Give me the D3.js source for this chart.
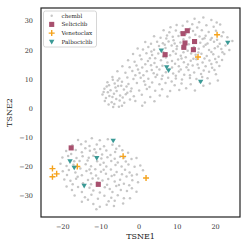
<!DOCTYPE html>
<html>
<head>
<meta charset="utf-8">
<script src="https://cdn.jsdelivr.net/npm/d3@7"></script>
<style>
  body { margin: 0; background: #fff; }
  text { font-family: "DejaVu Serif", serif; }
</style>
</head>
<body>
<svg id="chart" width="249" height="249"></svg>
<script>
// gray background compounds (chembl)
const chemblUpper = [
  [14.5,30.8],[16.8,31.2],[18.9,30.4],[12.6,29.9],[15.7,29.6],[20.3,29.5],
  [9.8,28.7],[11.4,28.4],[13.9,28.9],[17.6,28.6],[19.5,28.1],[21.2,28.8],[8.2,27.9],[15.2,27.8],
  [6.4,26.9],[7.9,26.2],[9.6,26.8],[10.9,26.1],[14.1,26.6],[16.4,26.9],[18.2,26.3],[20.1,26.7],[22.0,26.2],[13.3,27.4],
  [3.9,24.8],[5.6,24.3],[7.3,25.1],[8.8,24.6],[10.3,24.9],[13.2,24.4],[15.8,24.7],[17.4,25.0],[19.0,24.2],[21.6,24.8],[23.1,24.5],[16.6,23.9],[11.6,23.8],
  [1.6,22.8],[3.1,22.2],[4.7,22.9],[6.2,22.4],[7.7,23.0],[9.3,22.3],[10.8,22.7],[13.0,22.1],[16.0,22.6],[17.9,22.3],[19.6,22.9],[21.1,22.2],[22.6,21.6],[24.4,23.2],[18.7,23.6],[5.2,21.5],[8.5,21.6],
  [-0.4,20.6],[1.0,20.3],[2.4,21.1],[3.9,20.2],[6.9,20.8],[9.8,20.4],[11.3,20.9],[12.7,19.8],[15.6,20.5],[16.9,21.3],[18.3,20.1],[19.8,20.7],[21.5,20.4],[23.6,20.1],[13.6,18.9],
  [-1.6,18.7],[0.2,18.2],[1.9,19.0],[3.4,18.4],[5.0,18.9],[8.1,18.3],[9.6,18.8],[10.9,18.1],[12.2,17.6],[14.8,18.5],[16.3,18.8],[17.7,18.0],[19.4,18.6],[20.8,17.8],[22.3,18.7],[4.2,17.3],[7.0,17.5],
  [-2.9,16.6],[-1.2,16.1],[0.6,16.9],[2.3,16.3],[5.7,16.6],[8.6,16.3],[10.2,16.8],[11.7,15.9],[13.5,16.4],[15.0,16.9],[16.6,15.8],[18.4,16.5],[20.3,15.9],[21.7,16.7],[9.4,15.4],[1.6,15.2],
  [-4.4,14.5],[-2.5,14.2],[-0.7,14.8],[0.8,14.1],[3.1,14.9],[4.6,14.3],[6.1,14.7],[8.6,14.1],[10.4,14.5],[12.4,14.2],[14.0,14.8],[15.6,13.9],[17.4,14.5],[19.1,14.0],[21.0,14.6],[5.3,13.4],[12.9,13.2],
  [-5.7,12.8],[-3.6,12.3],[-1.8,12.9],[0.1,12.2],[2.0,12.8],[3.8,12.1],[7.0,12.5],[8.9,12.0],[10.4,12.7],[11.8,11.6],[14.4,12.4],[16.2,11.9],[18.3,12.6],[20.1,11.8],[6.1,11.3],[-1.0,11.4],
  [-7.0,10.8],[-5.2,10.3],[-3.1,10.7],[-1.5,10.1],[0.4,10.6],[2.4,10.2],[4.3,10.8],[5.9,10.1],[7.6,10.6],[9.6,10.3],[11.2,10.0],[13.3,10.5],[15.0,10.1],[17.9,10.4],[1.3,9.4],[8.5,9.3],
  [-8.3,9.0],[-6.4,8.6],[-4.5,9.2],[-2.8,8.4],[-0.6,8.8],[1.6,8.2],[3.4,8.9],[5.3,8.3],[6.9,8.8],[9.3,8.0],[11.1,8.6],[13.5,8.3],[-5.5,7.7],[2.7,7.4],[20.6,9.6],
  [-9.1,6.8],[-7.5,6.3],[-6.2,7.2],[-4.0,6.5],[-2.0,6.9],[0.0,6.2],[2.0,6.7],[4.2,6.1],[6.0,6.6],[8.1,6.0],[10.5,6.4],[-8.2,5.6],[-3.1,5.4],
  [-9.6,4.8],[-7.8,4.3],[-6.6,5.1],[-5.0,4.5],[-3.5,4.9],[-1.4,4.2],[0.7,4.7],[2.9,4.0],[5.4,4.5],[7.4,4.1],[-8.7,3.6],[-6.0,3.3],[-2.4,3.1],
  [-9.0,2.6],[-7.2,2.2],[-5.1,2.8],[-3.9,2.0],[-1.0,2.6],[1.5,2.1],[4.0,2.5],[-8.0,1.4],[-4.5,1.0],[-5.3,0.6],[0.8,1.0],[-6.8,0.5],
  [12.3,7.0],[14.6,6.2],[16.8,7.8],[18.5,8.6],[15.9,9.1],
  [7.1,24.0],[9.0,23.4],[12.2,25.6],[14.7,25.3],[17.1,24.1],[20.4,23.6],[6.7,21.9],[9.9,21.4],[12.0,21.5],[14.3,21.1],[17.4,21.9],[20.6,21.3],
  [3.2,19.6],[6.3,19.4],[8.9,19.7],[11.6,19.3],[15.5,19.2],[18.9,19.4],[21.8,19.3],[2.8,17.3],[6.3,17.9],[11.1,17.2],[14.2,17.1],[17.1,17.2],[19.9,17.0],
  [4.0,15.6],[7.4,15.8],[12.8,15.1],[15.3,15.1],[18.9,15.3],[-0.3,13.4],[3.3,13.2],[7.8,13.6],[10.9,13.4],[16.9,13.1],[19.7,13.2],[1.1,11.4],[4.7,11.6],[9.6,11.3],[13.3,11.4],[16.5,10.8],
  [-7.9,8.0],[-6.9,9.9],[-5.9,6.0],[-4.7,7.8],[-3.3,7.6],[-8.5,7.6],[-7.0,4.0],[-4.3,3.8],[-5.6,9.6],[-2.2,5.9],[-9.3,5.7],[-6.5,1.6]
];
const chemblLower = [
  [-16.0,-10.8],[-12.4,-10.2],[-10.3,-10.9],[-8.2,-10.5],[-14.0,-11.3],
  [-17.5,-12.6],[-15.2,-12.2],[-13.0,-12.8],[-11.1,-12.3],[-9.2,-12.9],[-7.0,-12.4],[-5.2,-12.8],[-14.1,-13.6],[-10.2,-13.9],
  [-19.1,-14.6],[-16.6,-14.2],[-15.0,-15.0],[-12.9,-14.5],[-11.3,-15.1],[-8.6,-14.4],[-6.3,-14.9],[-4.4,-14.3],[-2.9,-15.2],[-17.8,-15.6],[-9.7,-15.8],[-7.5,-15.9],
  [-20.1,-16.8],[-18.6,-16.3],[-16.4,-17.0],[-14.8,-16.4],[-13.2,-16.9],[-12.0,-16.2],[-9.9,-17.1],[-8.3,-16.7],[-6.4,-17.2],[-5.0,-16.5],[-2.0,-17.3],[-0.7,-17.0],[-15.6,-18.0],[-11.0,-18.1],[-7.3,-18.0],[-3.5,-18.2],
  [-20.6,-18.9],[-19.0,-19.7],[-17.2,-19.3],[-14.0,-19.1],[-12.6,-19.8],[-10.2,-19.3],[-8.6,-19.9],[-6.2,-19.4],[-4.6,-19.9],[-2.8,-19.2],[-1.2,-20.0],[-15.4,-20.6],[-11.5,-20.8],[-7.4,-20.9],[-3.7,-21.0],[0.3,-19.5],
  [-20.0,-21.5],[-18.4,-21.1],[-16.7,-21.9],[-13.8,-21.4],[-12.6,-22.2],[-10.0,-21.7],[-8.7,-22.4],[-5.9,-21.8],[-4.5,-22.5],[-2.5,-21.9],[-0.6,-22.6],[1.0,-21.2],[-15.0,-22.9],[-11.3,-23.0],[-7.2,-23.1],[-3.3,-23.3],
  [-19.6,-24.3],[-18.0,-24.8],[-16.5,-24.1],[-13.4,-24.5],[-12.2,-24.0],[-9.6,-24.7],[-8.1,-24.2],[-6.4,-25.0],[-5.0,-24.4],[-1.8,-24.6],[-0.3,-25.3],[-14.7,-25.6],[-11.0,-25.4],[-4.0,-25.8],[-2.6,-26.3],
  [-19.0,-26.7],[-17.6,-27.9],[-16.0,-26.9],[-13.0,-27.2],[-12.0,-28.1],[-9.0,-27.0],[-7.7,-27.6],[-6.0,-26.6],[-4.8,-27.9],[-3.2,-28.3],[-0.7,-28.5],[-15.0,-28.6],[-10.3,-28.8],[-1.9,-27.3],
  [-16.9,-29.8],[-14.2,-30.4],[-12.5,-29.6],[-10.8,-30.9],[-9.1,-29.9],[-7.3,-30.6],[-5.6,-29.7],[-4.0,-30.8],[-2.4,-30.8],[-13.4,-31.3],[-6.4,-31.6],
  [-15.0,-32.0],[-12.0,-32.7],[-10.3,-33.7],[-8.5,-33.0],[-6.6,-33.4],[-4.2,-32.6],[-11.2,-34.5],
  [-17.0,-18.1],[-13.5,-17.8],[-9.3,-18.6],[-5.6,-18.5],[-16.1,-23.4],[-13.0,-20.9],[-9.3,-21.0],[-6.5,-22.8],[-1.9,-23.0],[-17.4,-26.0],
  [-12.6,-26.0],[-8.4,-26.1],[-5.3,-26.2],[-10.7,-24.0],[-7.0,-28.6],[-11.7,-14.0],[-6.0,-13.8],[-3.9,-16.8],[-18.9,-22.8],[-8.0,-31.8]
];
const seliciclib = [
  [11.5,25.7],[12.6,26.7],[12.0,22.5],[11.7,21.0],[14.5,23.0],[14.2,20.2],[6.8,18.5],
  [-17.8,-13.5],[-10.7,-26.0]
];
const venetoclax = [
  [20.4,25.3],[15.4,17.7],[-22.7,-20.6],[-22.7,-23.4],[-21.6,-22.4],[-16.2,-19.9],[-4.2,-16.4],[1.8,-23.8]
];
const palbociclib = [
  [5.8,19.9],[7.2,14.2],[7.7,13.1],[16.1,9.2],[23.2,22.6],
  [-6.8,-11.0],[-18.1,-18.1],[-17.0,-20.3],[-11.1,-17.0],[-14.4,-26.5]
];
const xTicks = [-20, -10, 0, 10, 20];
const yTicks = [-30, -20, -10, 0, 10, 20, 30];
const legendLabels = ["chembl", "Seliciclib", "Venetoclax", "Palbociclib"];

const svg = d3.select("#chart");
const margin = {left: 41, top: 8, right: 9, bottom: 32};
const W = 249, H = 249;

const x = d3.scaleLinear().domain([-25.7, 26.4]).range([margin.left, W - margin.right]);
const y = d3.scaleLinear().domain([-37.2, 34.5]).range([H - margin.bottom, margin.top]);

const colSel = "#a8506e", colVen = "#f5a31c", colPal = "#3b9a96", colGray = "#b3b3b3";

// gray points
svg.append("g").selectAll("circle")
  .data(chemblUpper.concat(chemblLower))
  .enter().append("circle")
  .attr("cx", d => x(d[0]))
  .attr("cy", d => y(d[1]))
  .attr("r", 1.25)
  .attr("fill", colGray)
  .attr("opacity", 0.75);

// Seliciclib squares
svg.append("g").selectAll("path")
  .data(seliciclib)
  .enter().append("path")
  .attr("d", d3.symbol().type(d3.symbolSquare).size(26))
  .attr("transform", d => `translate(${x(d[0])},${y(d[1])})`)
  .attr("fill", colSel);

// Venetoclax plus
svg.append("g").selectAll("path")
  .data(venetoclax)
  .enter().append("path")
  .attr("d", "M-3,0H3M0,-3V3")
  .attr("transform", d => `translate(${x(d[0])},${y(d[1])})`)
  .attr("stroke", colVen)
  .attr("stroke-width", 1.4)
  .attr("fill", "none");

// Palbociclib triangles pointing down
const tri = "M-2.7,-2L2.7,-2L0,2.6Z";
svg.append("g").selectAll("path")
  .data(palbociclib)
  .enter().append("path")
  .attr("d", tri)
  .attr("transform", d => `translate(${x(d[0])},${y(d[1])})`)
  .attr("fill", colPal);

// frame
svg.append("rect")
  .attr("x", margin.left).attr("y", margin.top)
  .attr("width", W - margin.left - margin.right)
  .attr("height", H - margin.top - margin.bottom)
  .attr("fill", "none").attr("stroke", "#222").attr("stroke-width", 1.2);

// ticks
svg.append("g").selectAll("text")
  .data(xTicks).enter().append("text")
  .attr("x", d => x(d)).attr("y", H - margin.bottom + 12)
  .attr("text-anchor", "middle")
  .attr("font-size", 6.5).attr("fill", "#333")
  .text(d => d < 0 ? "\u2212" + Math.abs(d) : d);

svg.append("g").selectAll("text")
  .data(yTicks).enter().append("text")
  .attr("x", margin.left - 8).attr("y", d => y(d))
  .attr("dy", "0.35em")
  .attr("text-anchor", "end")
  .attr("font-size", 6.5).attr("fill", "#333")
  .text(d => d < 0 ? "\u2212" + Math.abs(d) : d);

svg.append("text")
  .attr("x", (margin.left + W - margin.right) / 2).attr("y", H - 10)
  .attr("text-anchor", "middle").attr("font-size", 8).attr("fill", "#222")
  .text("TSNE1");

svg.append("text")
  .attr("transform", `translate(12,${(margin.top + H - margin.bottom) / 2}) rotate(-90)`)
  .attr("text-anchor", "middle").attr("font-size", 8).attr("fill", "#222")
  .text("TSNE2");

// legend
const lg = svg.append("g").attr("transform", "translate(43.5,11)");
lg.append("rect")
  .attr("width", 53).attr("height", 36).attr("rx", 2)
  .attr("fill", "#fff").attr("fill-opacity", 0.85)
  .attr("stroke", "#ccc").attr("stroke-width", 0.8);
legendLabels.forEach((lab, i) => {
  const cy = 4.7 + i * 8.7;
  const m = lg.append("g").attr("transform", `translate(8.2,${cy})`);
  if (i === 0) m.append("circle").attr("r", 1.2).attr("fill", colGray).attr("opacity", 0.75);
  if (i === 1) m.append("path").attr("d", d3.symbol().type(d3.symbolSquare).size(26)).attr("fill", colSel);
  if (i === 2) m.append("path").attr("d", "M-3,0H3M0,-3V3").attr("stroke", colVen).attr("stroke-width", 1.4);
  if (i === 3) m.append("path").attr("d", tri).attr("fill", colPal);
  lg.append("text").attr("x", 18).attr("y", cy).attr("dy", "0.35em")
    .attr("font-size", 5.6).attr("fill", "#222").text(lab);
});
</script>
</body>
</html>
